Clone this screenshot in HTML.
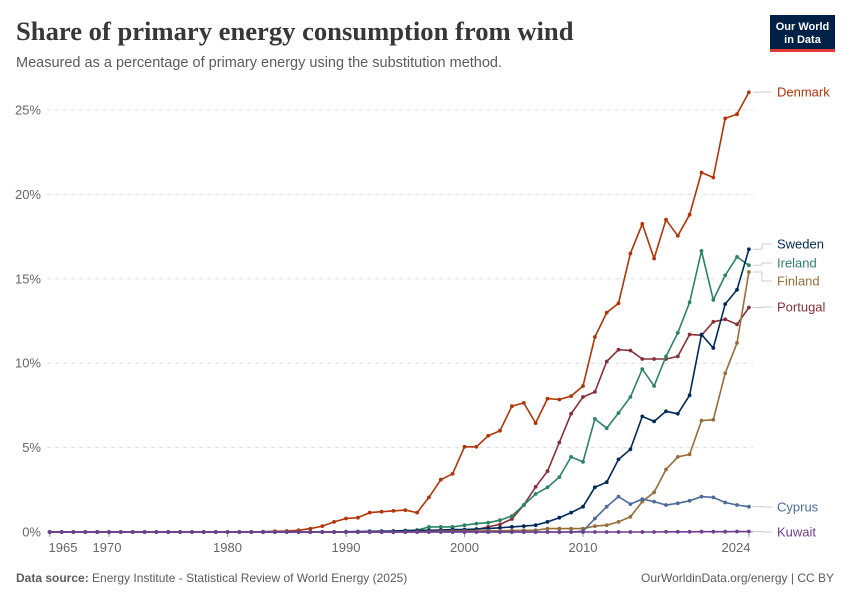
<!DOCTYPE html>
<html><head><meta charset="utf-8"><style>
body{margin:0;background:#fff;width:850px;height:600px;overflow:hidden;font-family:"Liberation Sans",sans-serif}
</style></head><body>
<svg id="s" width="850" height="600" xmlns="http://www.w3.org/2000/svg" font-family="Liberation Sans, sans-serif">
<text x="16" y="40" font-family="Liberation Serif, serif" font-weight="bold" font-size="26.6" fill="#373737">Share of primary energy consumption from wind</text>
<text x="16" y="67" font-size="14.5" fill="#5b5b5b">Measured as a percentage of primary energy using the substitution method.</text>
<rect x="770" y="15" width="65" height="37" fill="#002147"/>
<rect x="770" y="49" width="65" height="3" fill="#e63936"/>
<text x="802.5" y="30" font-size="11" fill="#fff" text-anchor="middle" font-weight="bold">Our World</text>
<text x="802.5" y="43" font-size="11" fill="#fff" text-anchor="middle" font-weight="bold">in Data</text>
<g id="g"></g>
<text x="16" y="582" font-size="12" fill="#5b5b5b"><tspan font-weight="bold">Data source:</tspan> Energy Institute - Statistical Review of World Energy (2025)</text>
<text x="834" y="582" font-size="12" fill="#5b5b5b" text-anchor="end">OurWorldinData.org/energy | CC BY</text>
</svg>
<script>
const X=y=>346+(y-1990)*11.85, Y=v=>532-v*16.88;
let h='';
for(let v=5;v<=25;v+=5){h+=`<line x1="47" x2="753" y1="${Y(v)}" y2="${Y(v)}" stroke="#ddd" stroke-dasharray="4,4"/>`;}
for(let v=0;v<=25;v+=5){h+=`<text x="41" y="${Y(v)+4.5}" font-size="13" fill="#666" text-anchor="end">${v}%</text>`;}
h+=`<line x1="47" x2="753" y1="532" y2="532" stroke="#999"/>`;
[[1965,63],[1970,107],[1980,X(1980)],[1990,X(1990)],[2000,X(2000)],[2010,X(2010)],[2024,736]].forEach(([t,x])=>{
 h+=`<line x1="${X(t)}" x2="${X(t)}" y1="532" y2="537" stroke="#999"/><text x="${x}" y="552" font-size="13" fill="#666" text-anchor="middle">${t}</text>`;});
function ser(start,vals){let o={};for(let y=1965;y<=2024;y++)o[y]=0;vals.forEach((v,i)=>o[start+i]=v);return o;}
const S=[
["Denmark","#b13507",ser(1983,[.02,.04,.06,.1,.2,.35,.6,.8,.85,1.15,1.2,1.25,1.3,1.15,2.05,3.1,3.45,5.05,5.05,5.7,6.0,7.45,7.65,6.45,7.9,7.85,8.05,8.65,11.55,13.0,13.55,16.5,18.25,16.2,18.5,17.55,18.8,21.3,21.0,24.5,24.75,26.05]),92],
["Portugal","#883039",ser(1996,[0.01,.02,.04,.06,.1,.15,.3,.45,.77,1.6,2.67,3.6,5.3,7.0,8.0,8.3,10.1,10.8,10.75,10.25,10.25,10.25,10.4,11.7,11.65,12.45,12.6,12.3,13.3]),307],
["Ireland","#2c8465",ser(1992,[.01,.02,.04,.05,.1,.3,.3,.3,.4,.5,.55,.7,.95,1.6,2.25,2.65,3.25,4.45,4.15,6.7,6.15,7.05,8.0,9.65,8.65,10.4,11.8,13.6,16.65,13.75,15.2,16.3,15.8]),263],
["Sweden","#00295b",ser(1990,[.02,.03,.04,.05,.06,.08,.1,.1,.12,.14,.15,.18,.2,.25,.3,.35,.4,.6,.85,1.15,1.5,2.65,2.95,4.3,4.9,6.85,6.55,7.15,7.0,8.1,11.7,10.9,13.5,14.35,16.75]),244],
["Finland","#996d39",ser(1995,[.01,.02,.03,.04,.05,.06,.06,.07,.07,.08,.1,.1,.2,.2,.2,.2,.35,.4,.6,.9,1.8,2.35,3.7,4.45,4.6,6.6,6.65,9.4,11.2,15.4]),281],
["Cyprus","#4c6a9c",ser(2010,[.05,.8,1.5,2.1,1.65,1.95,1.8,1.6,1.7,1.85,2.1,2.05,1.75,1.6,1.5]),507],
["Kuwait","#6d3e91",ser(2017,[0.01,0.01,0.01,0.02,0.02,0.02,0.03,0.03]),532]];
S.forEach(([n,c,d,ly])=>{let p=[];for(let y=1965;y<=2024;y++)p.push(X(y).toFixed(1)+','+Y(d[y]).toFixed(1));
 h+=`<polyline points="${p.join(' ')}" fill="none" stroke="${c}" stroke-width="1.6"/>`;
 p.forEach(q=>{let [a,b]=q.split(',');h+=`<circle cx="${a}" cy="${b}" r="1.9" fill="${c}"/>`;});
 const ey=Y(d[2024]);
 h+=`<polyline points="${X(2024)+4},${ey} 762,${ey} 762,${ly} 772,${ly}" fill="none" stroke="#ccc"/>`;
 h+=`<text x="777" y="${ly+4.5}" font-size="13" fill="${c}">${n}</text>`;
});
document.getElementById('g').innerHTML=h;
</script>
</body></html>
